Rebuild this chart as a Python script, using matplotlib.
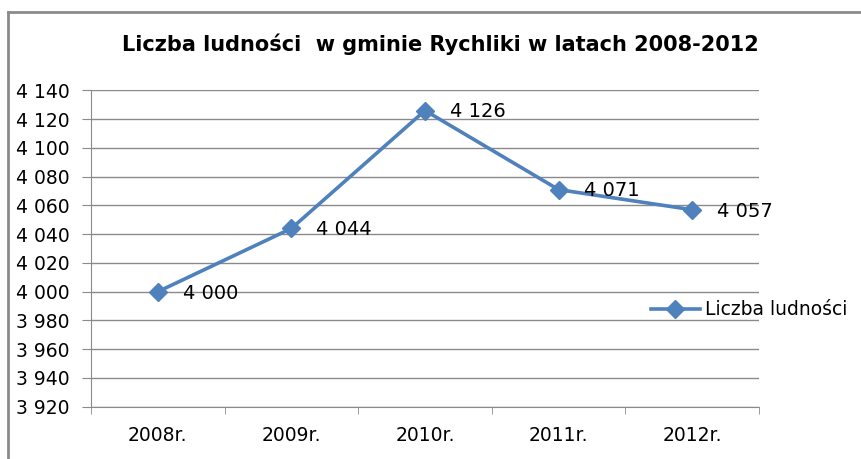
import matplotlib
matplotlib.use("Agg")
from matplotlib import pyplot as plt
from matplotlib.lines import Line2D
from matplotlib.ticker import FixedLocator

# data
years = ["2008r.", "2009r.", "2010r.", "2011r.", "2012r."]
population = [4000, 4044, 4126, 4071, 4057]
y_ticks = list(range(3920, 4141, 20))

blue = "#4F81BD"
grey = "#8a8a8a"
plt.rcParams["font.family"] = ["DejaVu Sans"]


def fmt(v):
    return f"{v:,}".replace(",", " ")


fig = plt.figure(figsize=(8.62, 4.59), dpi=100)
ax = fig.add_axes([0.1056, 0.114, 0.7749, 0.689])

x = list(range(len(years)))
ax.plot(x, population, color=blue, lw=2.6, marker="D", ms=9.5,
        label="Liczba ludności")

for xi, val in zip(x, population):
    ax.annotate(fmt(val), (xi, val), xytext=(18, -1),
                textcoords="offset points", fontsize=14, va="center", ha="left")

ax.set_xlim(-0.5, len(years) - 0.5)
ax.set_ylim(3920, 4140)
ax.set_yticks(y_ticks)
ax.set_yticklabels([fmt(v) for v in y_ticks], fontsize=13.5)
ax.set_xticks(x)
ax.set_xticklabels(years, fontsize=13.5)
ax.xaxis.set_minor_locator(FixedLocator([i - 0.5 for i in range(len(years) + 1)]))
ax.tick_params(axis="x", which="major", length=0, pad=14)
ax.tick_params(axis="x", which="minor", length=5, color=grey, direction="out")
ax.tick_params(axis="y", length=6.5, color=grey, direction="out", pad=9)

ax.grid(axis="y", color=grey, lw=1)
ax.set_axisbelow(True)
for s in ["top", "right"]:
    ax.spines[s].set_visible(False)
for s in ["left", "bottom"]:
    ax.spines[s].set_color(grey)

ax.legend(loc="center left", bbox_to_anchor=(0.838, 0.306), frameon=False,
          fontsize=13.5, handlelength=2.6, handletextpad=0.3,
          borderaxespad=0, borderpad=0)

fig.text(0.511, 0.903, "Liczba ludności  w gminie Rychliki w latach 2008-2012",
         ha="center", va="center", fontsize=15, fontweight="bold")

# chart border
fig.add_artist(Line2D([0.0095, 0.0095], [0, 0.974], color=grey, lw=2,
                      transform=fig.transFigure))
fig.add_artist(Line2D([0.0095, 1], [0.974, 0.974], color=grey, lw=2,
                      transform=fig.transFigure))

fig.savefig("out.png", dpi=100)
